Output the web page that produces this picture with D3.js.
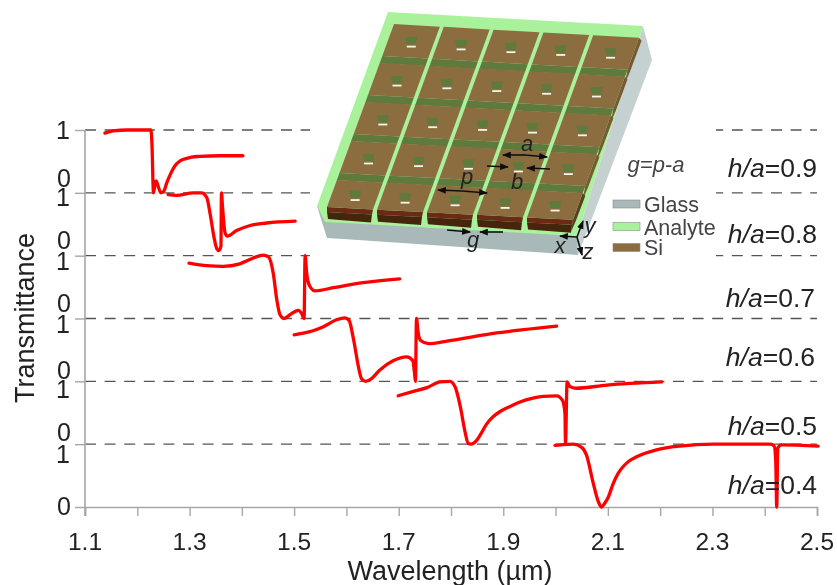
<!DOCTYPE html>
<html><head><meta charset="utf-8">
<script src="https://d3js.org/d3.v7.min.js"></script>
<style>
html,body{margin:0;padding:0;background:#fff;overflow:hidden}
text{font-family:"Liberation Sans",Arial,sans-serif}
</style></head><body><svg id="c" width="837" height="585"></svg>
<script>
const ratios = ["h/a=0.9","h/a=0.8","h/a=0.7","h/a=0.6","h/a=0.5","h/a=0.4"];
const xTickValues = [1.1,1.2,1.3,1.4,1.5,1.6,1.7,1.8,1.9,2.0,2.1,2.2,2.3,2.4,2.5];
const xTickLabels = ["1.1","1.3","1.5","1.7","1.9","2.1","2.3","2.5"];
const w09 = [1.138,1.154,1.180,1.226,1.228,1.231,1.234,1.236,1.239,1.245,1.251,1.256,1.263,1.269,1.275,1.282,1.291,1.304,1.320,1.358,1.402];
const t09 = [.95,.987,1,1,.79,0,.13,.19,.13,0,.03,.15,.29,.39,.46,.51,.54,.57,.58,.59,.59];
const w08 = [1.259,1.275,1.307,1.323,1.333,1.339,1.347,1.352,1.356,1.360,1.361,1.363,1.368,1.372,1.390,1.416,1.447,1.502];
const t08 = [.97,.96,1,1,.92,.68,.28,.11,.08,.15,1,.78,.36,.31,.40,.48,.52,.55];
const w07 = [1.299,1.333,1.364,1.396,1.421,1.441,1.451,1.460,1.467,1.473,1.481,1.492,1.508,1.515,1.519,1.521,1.524,1.529,1.540,1.575,1.632,1.702];
const t07 = [.88,.84,.83,.87,.96,1.01,.98,.72,.29,.06,0,.06,.13,.07,0,1,.72,.53,.44,.49,.57,.63];
const w06 = [1.500,1.530,1.556,1.581,1.597,1.605,1.614,1.623,1.629,1.637,1.646,1.664,1.690,1.715,1.727,1.730,1.732,1.734,1.737,1.742,1.757,1.792,1.887,2.002];
const t06 = [.74,.79,.87,.98,1.01,.97,.65,.23,.04,0,.03,.18,.33,.39,.33,.15,0,1,.79,.65,.60,.64,.77,.88];
const w05 = [1.699,1.728,1.754,1.779,1.798,1.808,1.818,1.827,1.833,1.838,1.849,1.859,1.868,1.881,1.894,1.913,1.932,1.976,2.002,2.013,2.018,2.019,2.022,2.027,2.039,2.098,2.203];
const t05 = [.77,.84,.90,.99,1,.91,.59,.19,.01,0,.06,.19,.32,.44,.52,.60,.67,.76,.77,.70,.49,.01,.99,.92,.89,.94,.99];
const w04 = [1.999,2.034,2.050,2.059,2.072,2.082,2.088,2.094,2.101,2.110,2.120,2.129,2.142,2.155,2.193,2.238,2.302,2.410,2.418,2.421,2.423,2.425,2.432,2.502];
const t04 = [.98,1,.95,.83,.38,.08,0,.06,.16,.37,.54,.64,.74,.80,.91,.97,1,1,.97,.75,0,.94,.99,.97];
const wavelengths = [w09,w08,w07,w06,w05,w04];
const transmittances = [t09,t08,t07,t06,t05,t04];
const legendNames = ["Glass","Analyte","Si"];

const svg = d3.select("#c");
const x = d3.scaleLinear([1.1,2.5],[85,817]);
const y = d3.scaleLinear([0,6],[507,130]);
const defs = svg.append("defs");
defs.append("filter").attr("id","soft").attr("x","-5%").attr("y","-5%").attr("width","110%").attr("height","110%")
  .append("feGaussianBlur").attr("stdDeviation",0.55);
defs.append("filter").attr("id","soft2").attr("x","-5%").attr("y","-5%").attr("width","110%").attr("height","110%")
  .append("feGaussianBlur").attr("stdDeviation",0.3);
defs.append("marker").attr("id","ah").attr("viewBox","0 0 8 6").attr("refX",7).attr("refY",3)
  .attr("markerWidth",9).attr("markerHeight",7).attr("markerUnits","userSpaceOnUse").attr("orient","auto")
  .append("path").attr("d","M0,0L8,3L0,6Z").attr("fill","#111");

const root = svg.append("g").attr("filter","url(#soft2)");
const dash = 11, period = 19.6;
[6,5,4,3,2,1].forEach((lv,i)=>{
  const segs = i<3 ? [[85,310],[716,817]] : [[85,817]];
  segs.forEach(s=>root.append("line").attr("x1",s[0]).attr("x2",s[1]).attr("y1",y(lv)).attr("y2",y(lv))
    .attr("stroke","#555").attr("stroke-width",1.3)
    .attr("stroke-dasharray",`${dash} ${period-dash}`)
    .attr("stroke-dashoffset",(s[0]-85)%period));
});
const gy = root.append("g").attr("transform","translate(85,0)").call(d3.axisLeft(y).tickValues([0,1,2,3,4,5,6]).tickSize(10).tickFormat(""));
const gx = root.append("g").attr("transform","translate(0,507)").call(d3.axisBottom(x).tickValues(xTickValues).tickSize(9).tickFormat(""));
[gx,gy].forEach(g=>{g.selectAll("path").attr("stroke","#a6a6a6").attr("stroke-width",1.6);g.selectAll("line").attr("stroke","#a6a6a6").attr("stroke-width",1.4);});
gy.select("path").attr("d","M0,130V516");

const ill = root.append("g").attr("filter","url(#soft)");
const poly = (pts,fill)=>ill.append("polygon").attr("points",pts.map(p=>p.join(",")).join(" ")).attr("fill",fill);
poly([[643,26],[652,60],[578,255],[577,236]],"#c5d1d1");
poly([[317,206],[327,238],[578,255],[577,236]],"#a9b9b9");
poly([[388,12],[643,26],[577,236],[325,222],[317,206]],"#a9f29b");
const P = [[393,24],[642,38],[576,220],[326,207]];
const lerp=(a,b,t)=>[a[0]+(b[0]-a[0])*t,a[1]+(b[1]-a[1])*t];
const uv=(u,v)=>lerp(lerp(P[0],P[1],u),lerp(P[3],P[2],u),v);
const quad=(u0,u1,v0,v1,fill)=>poly([uv(u0,v0),uv(u1,v0),uv(u1,v1),uv(u0,v1)],fill);
const pitchV=0.213, faceV=[.175,.175,.175,.175,.148];
d3.range(5).forEach(r=>d3.range(5).forEach(c=>{
  const u0=c/5+.004,u1=(c+1)/5-.012,v0=r*pitchV,v1=v0+faceV[r],dv=v1-v0;
  if(r<4) quad(u0,u1,v1,v1+.04,"#5f7a3c");
  else {
    const a=uv(u0,v1),b=uv(u1,v1);
    poly([a,b,[b[0]-1,b[1]+5],[a[0],a[1]+5]],"#6a2c12");
    poly([[a[0],a[1]+5],[b[0]-1,b[1]+5],[b[0]-2,b[1]+13],[a[0]+1,a[1]+12]],"#44280f");
  }
  if(c===4){const a=uv(u1,v0),b=uv(u1,v1);poly([a,[a[0]+2.5,a[1]+3],[b[0]+2.5,b[1]+2],[b[0]-1,b[1]+10],[b[0]-2,b[1]+10],b],r===4?"#5a4020":"#765a32");}
  quad(u0,u1,v0,v1,"#8b6d40");
  const m=uv((u0+u1)/2,v0+dv*.48);
  poly([[m[0]-6,m[1]-3.6],[m[0]+6,m[1]-3.6],[m[0]+4.5,m[1]+3.6],[m[0]-4.5,m[1]+3.6]],"#5f7a3c");
  poly([[m[0]-4.5,m[1]+5],[m[0]+4.5,m[1]+5],[m[0]+4.5,m[1]+6.8],[m[0]-4.5,m[1]+6.8]],"#f4f8ea");
}));

const arrows=[[[525,155],[503,155]],[[525,155],[547,157]],[[487,166],[508,167]],[[550,169],[527,168]],
  [[462,191],[438,190]],[[462,191],[487,193]],[[447,230],[470,232]],[[503,232],[480,232]],
  [[577,237],[583,221]],[[577,237],[560,236]],[[577,237],[582,255]]];
arrows.forEach(a=>root.append("line").attr("x1",a[0][0]).attr("y1",a[0][1]).attr("x2",a[1][0]).attr("y2",a[1][1])
  .attr("stroke","#111").attr("stroke-width",1.6).attr("marker-end","url(#ah)"));
const ital=(t,px,py,fs,col)=>root.append("text").attr("x",px).attr("y",py).attr("font-size",fs).attr("font-style","italic")
  .attr("fill",col||"#222").attr("text-anchor","middle").text(t);
ital("a",527,151,22);ital("b",517,189,22);ital("p",467,184,22);ital("g",473,247,22);
ital("y",590,233,22);ital("x",560,253,22);ital("z",588,259,22);
ital("g=p-a",656,172,22,"#444");

["#a9b9b9","#a9f29b","#8b6d40"].forEach((col,i)=>{
  root.append("rect").attr("x",613).attr("y",[200,222.5,243.5][i]).attr("width",27).attr("height",8)
    .attr("fill",col).attr("stroke","#8a8a8a").attr("stroke-width",.6);
  root.append("text").attr("x",644).attr("y",[212,235,255][i]).attr("font-size",21.5).attr("fill","#444").text(legendNames[i]);
});

const line=d3.line().curve(d3.curveMonotoneX);
wavelengths.forEach((ws,i)=>{
  const base=5-i;
  root.append("path").attr("fill","none").attr("stroke","#ff0000").attr("stroke-width",3.3).attr("stroke-linejoin","round").attr("stroke-linecap","round")
    .attr("d",line(ws.map((w,k)=>[x(w),y(base+transmittances[i][k])])));
});

const oneY=[139,206,270,333,398,463], zeroY=[187,249,312,379,441,515];
oneY.forEach(v=>root.append("text").attr("x",70).attr("y",v).attr("text-anchor","end").attr("font-size",25).attr("fill","#222").text("1"));
zeroY.forEach(v=>root.append("text").attr("x",71).attr("y",v).attr("text-anchor","end").attr("font-size",25).attr("fill","#222").text("0"));
xTickLabels.forEach(l=>root.append("text").attr("x",x(+l)).attr("y",550).attr("text-anchor","middle").attr("font-size",24.5).attr("fill","#222").text(l));
root.append("text").attr("x",450).attr("y",580).attr("text-anchor","middle").attr("font-size",27).attr("fill","#222").text("Wavelength (µm)");
root.append("text").attr("transform","translate(34,318) rotate(-90)").attr("text-anchor","middle").attr("font-size",27).attr("fill","#222").text("Transmittance");
const labY=[177,243,307,366,435,494], labX=[817,817,815,815,817,817];
ratios.forEach((r,i)=>{
  const t=root.append("text").attr("x",labX[i]).attr("y",labY[i]).attr("text-anchor","end").attr("font-size",26.5).attr("fill","#222");
  const m=r.split("=");
  t.append("tspan").attr("font-style","italic").text(m[0]);
  t.append("tspan").text("="+m[1]);
});
</script></body></html>
